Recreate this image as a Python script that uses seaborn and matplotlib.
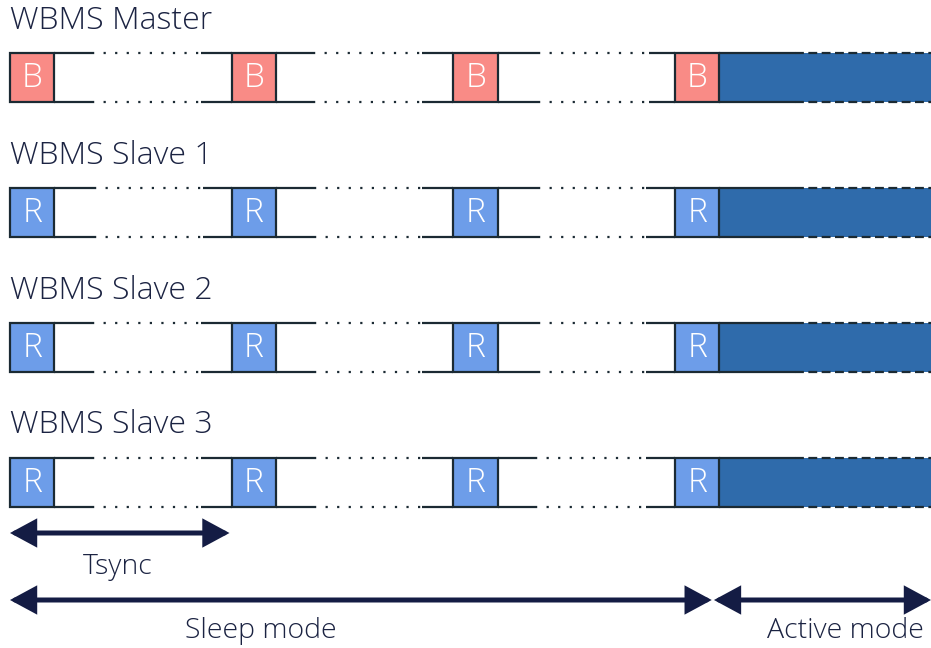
import numpy as np
import matplotlib.pyplot as plt
import seaborn as sns

# --- datos del diagrama (tiempo en unidades de Tsync) ---
rows = ["WBMS Master", "WBMS Slave 1", "WBMS Slave 2", "WBMS Slave 3"]
slot_letters = ["B", "R", "R", "R"]
slot_times = [0, 1, 2, 3]
slot_width = 0.2
# tramo punteado (sueño) dentro de cada intervalo, relativo al inicio del slot
gap_start = [[0.37, 0.365, 0.38], [0.38, 0.37, 0.38], [0.37, 0.37, 0.38], [0.37, 0.37, 0.37]]
gap_end = [[0.86, 0.86, 0.88], [0.87, 0.86, 0.87], [0.86, 0.86, 0.87], [0.86, 0.86, 0.87]]
active_start = 3.2
active_solid_end = 3.54
t_end = 4.154
tsync_span = (0, 0.99)
sleep_span = (0, 3.165)
active_span = (3.175, 4.154)

# --- estilo ---
sns.set_theme(style="white")
plt.rcParams['font.family'] = ['Open Sans', 'DejaVu Sans']

c_line = "#1b2a33"
c_text = "#1b2342"
c_arrow = "#141c44"
c_b = "#f98b86"
c_r = "#6d9de9"
c_active = "#2f6bab"

fig = plt.figure(figsize=(9.31, 6.48), dpi=100)
ax = fig.add_axes([0, 0, 1, 1])
ax.set_xlim(-10 / 221.7, t_end)
ax.set_ylim(648, 0)
ax.axis("off")

row_top = [53, 188, 323, 458]
box_h = 49
label_y = [21, 156, 291, 425]

for i, name in enumerate(rows):
    top = row_top[i]
    bot = top + box_h
    yc = top + box_h / 2
    ax.text(slot_times[0], label_y[i], name, fontsize=23, color=c_text,
            va="center", ha="left", fontweight="light")
    color = c_b if slot_letters[i] == "B" else c_r
    # periodos dormidos: solido - punteado - solido
    for k in range(3):
        t0 = slot_times[k] + slot_width
        g0 = slot_times[k] + gap_start[i][k]
        g1 = slot_times[k] + gap_end[i][k]
        t1 = slot_times[k + 1]
        for y in (top, bot):
            ax.plot([t0, g0], [y, y], color=c_line, lw=1.6, solid_capstyle="butt")
            ax.plot([g0, g1], [y, y], color=c_line, lw=1.6, ls=(0, (1, 4.2)))
            ax.plot([g1, t1], [y, y], color=c_line, lw=1.6, solid_capstyle="butt")
    # zona activa
    ax.barh(yc, t_end - active_start, left=active_start, height=box_h,
            color=c_active, edgecolor="none")
    for y in (top, bot):
        ax.plot([active_start, active_solid_end], [y, y], color=c_line, lw=1.6)
        ax.plot([active_solid_end, t_end], [y, y], color=c_line, lw=1.6, ls=(0, (4, 2)))
    # slots B / R
    ax.barh([yc] * len(slot_times), slot_width, left=slot_times, height=box_h,
            color=color, edgecolor=c_line, linewidth=1.6)
    for t in slot_times:
        ax.text(t + slot_width / 2, yc + 1, slot_letters[i], fontsize=24, color="white",
                ha="center", va="center", fontweight="light")

# flechas
arrow = dict(arrowstyle="<|-|>,head_length=0.5,head_width=0.27", mutation_scale=28,
             lw=3.6, color=c_arrow, shrinkA=0, shrinkB=0, joinstyle="miter")
ax.annotate("", xy=(tsync_span[1], 533), xytext=(tsync_span[0], 533), arrowprops=arrow)
ax.annotate("", xy=(sleep_span[1], 600), xytext=(sleep_span[0], 600), arrowprops=arrow)
ax.annotate("", xy=(active_span[1], 600), xytext=(active_span[0], 600), arrowprops=arrow)

ax.text(0.485, 567, "Tsync", fontsize=20.5, color=c_text,
        ha="center", va="center", fontweight="light")
ax.text(1.13, 631, "Sleep mode", fontsize=20.5, color=c_text,
        ha="center", va="center", fontweight="light")
ax.text(3.77, 631, "Active mode", fontsize=20.5, color=c_text,
        ha="center", va="center", fontweight="light")

fig.savefig("out.png", dpi=100)
